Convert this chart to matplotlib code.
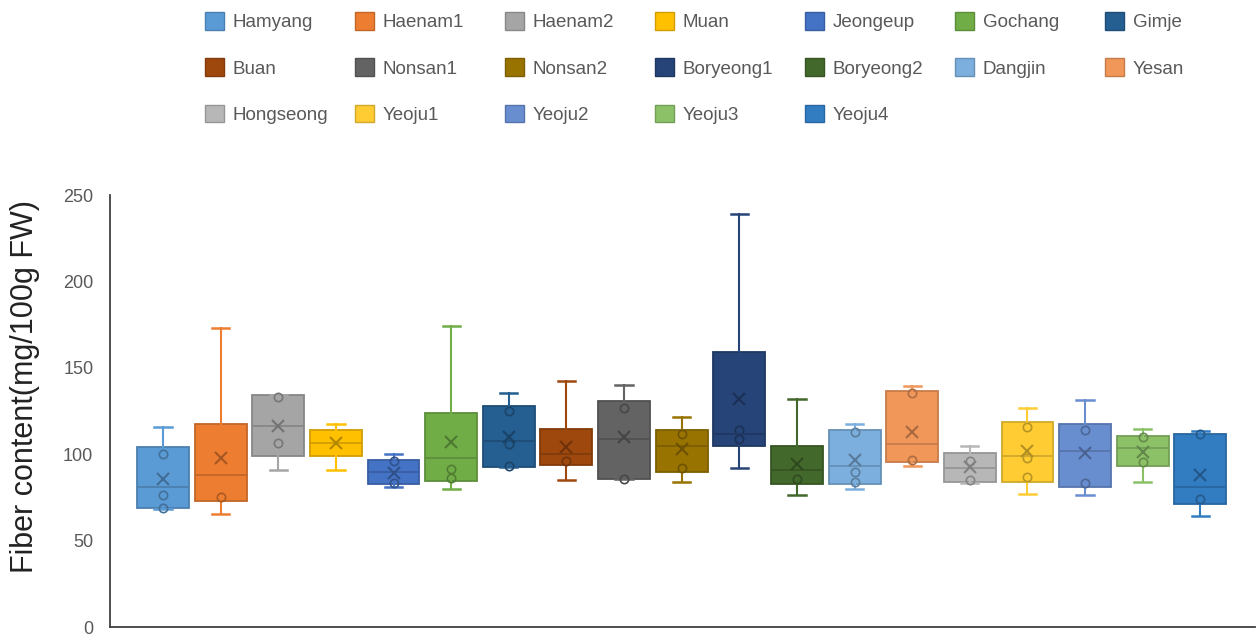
import matplotlib
matplotlib.use("Agg")
import matplotlib.pyplot as plt
import matplotlib.colors as mcolors
from matplotlib.patches import Patch

categories = ["Hamyang", "Haenam1", "Haenam2", "Muan", "Jeongeup", "Gochang", "Gimje",
              "Buan", "Nonsan1", "Nonsan2", "Boryeong1", "Boryeong2", "Dangjin", "Yesan",
              "Hongseong", "Yeoju1", "Yeoju2", "Yeoju3", "Yeoju4"]
whisker_low = [68.5, 65.2, 90.9, 90.9, 81.2, 80.0, 92.8, 85.1, 85.8, 83.9, 92.0, 76.2,
               80.0, 93.0, 83.2, 77.1, 76.2, 83.9, 64.2]
q1 = [69.0, 72.9, 99.0, 98.8, 82.9, 84.7, 92.8, 93.8, 85.8, 89.7, 104.7, 82.9,
      82.9, 95.7, 83.9, 83.9, 81.0, 93.0, 71.2]
median = [81.2, 88.0, 116.5, 106.7, 89.9, 98.0, 107.8, 99.9, 109.0, 104.9, 111.7, 91.0,
          93.0, 105.7, 91.8, 99.0, 101.9, 103.8, 81.2]
q3 = [104.0, 117.5, 134.3, 113.8, 97.0, 123.7, 127.7, 114.8, 130.8, 113.8, 159.3, 104.7,
      113.8, 136.6, 100.9, 118.8, 117.7, 110.7, 111.7]
whisker_high = [115.6, 173.2, 134.3, 117.7, 100.0, 174.2, 135.6, 142.4, 140.4, 121.5, 239.4, 132.3,
                117.7, 139.3, 104.7, 126.6, 131.5, 114.6, 113.6]
means = [86.0, 97.6, 116.5, 106.7, 89.3, 107.2, 110.1, 104.3, 109.8, 102.8, 132.3, 94.3,
         97.0, 112.7, 92.4, 102.0, 100.9, 101.5, 88.0]
inner_points = [[100.0, 76.2, 69.0], [75.2], [133.3, 106.7], [], [96.0, 83.5],
                [91.3, 86.4], [124.8, 105.9, 93.5], [96.0], [126.6, 85.8], [111.7, 91.8],
                [114.0, 108.8], [86.0], [112.7, 89.9, 83.9], [135.6, 97.0], [96.0, 85.1],
                [115.7, 97.6, 86.9], [113.8, 83.2], [109.8, 95.7], [111.7, 74.0]]
colors = ["#5B9BD5", "#ED7D31", "#A5A5A5", "#FFC000", "#4472C4", "#70AD47", "#255E91",
          "#9E480E", "#636363", "#997300", "#264478", "#43682B", "#7CAFDD", "#F1975A",
          "#B7B7B7", "#FFCD33", "#698ED0", "#8CC168", "#327DC2"]
y_label = "Fiber content(mg/100g FW)"


def darken(c, f=0.8):
    r, g, b = mcolors.to_rgb(c)
    return (r * f, g * f, b * f)


fig = plt.figure(figsize=(12.57, 6.34), dpi=100)
ax = fig.add_axes([0.0875, 0.011, 0.911, 0.681])

positions = list(range(len(categories)))
for i, cat in enumerate(categories):
    col = colors[i]
    edge = darken(col, 0.82)
    stats = [dict(whislo=whisker_low[i], q1=q1[i], med=median[i], q3=q3[i],
                  whishi=whisker_high[i], mean=means[i], fliers=[], label=cat)]
    ax.bxp(stats, positions=[positions[i]], widths=0.9, patch_artist=True,
           showmeans=True, showfliers=False, manage_ticks=False,
           boxprops=dict(facecolor=col, edgecolor=edge, linewidth=1.3),
           medianprops=dict(color=edge, linewidth=1.3),
           whiskerprops=dict(color=col, linewidth=1.5),
           capprops=dict(color=col, linewidth=1.8),
           capwidths=0.3,
           meanprops=dict(marker="x", markeredgecolor=darken(col, 0.7),
                          markersize=9, markeredgewidth=1.5, linestyle="none"))
    pts = inner_points[i]
    if pts:
        ax.plot([positions[i]] * len(pts), pts, linestyle="none", marker="o",
                markersize=6, markerfacecolor="none",
                markeredgecolor=darken(col, 0.72), markeredgewidth=1.2)

ax.set_xlim(-0.92, 18.95)
ax.set_ylim(0, 250)
ax.set_yticks([0, 50, 100, 150, 200, 250])
ax.set_xticks([])
for s in ["top", "right"]:
    ax.spines[s].set_visible(False)
for s in ["left", "bottom"]:
    ax.spines[s].set_color("#404040")
    ax.spines[s].set_linewidth(1.3)
ax.tick_params(axis="y", length=0, pad=12, labelsize=13, labelcolor="#595959")
for lbl in ax.get_yticklabels():
    lbl.set_fontfamily("Liberation Sans")
ax.set_ylabel(y_label, fontsize=22, color="#222222", family="Liberation Sans")
ax.yaxis.set_label_coords(-0.061, 0.557)

# legend: 7 columns x 3 rows
ncols = 7
for c in range(ncols):
    idx = [c + r * ncols for r in range(3) if c + r * ncols < len(categories)]
    handles = [Patch(facecolor=colors[k], edgecolor=darken(colors[k], 0.82), linewidth=1.0)
               for k in idx]
    labels = [categories[k] for k in idx]
    fig.legend(handles, labels, loc="upper left",
               bbox_to_anchor=((205 + 150 * c) / 1257, 1 - 12 / 634),
               frameon=False, ncol=1, borderpad=0, borderaxespad=0,
               handlelength=1.0, handleheight=1.07, handletextpad=0.48,
               labelspacing=1.45,
               prop=dict(family="Liberation Sans", size=13.5), labelcolor="#595959")

fig.savefig("out.png", dpi=100)
